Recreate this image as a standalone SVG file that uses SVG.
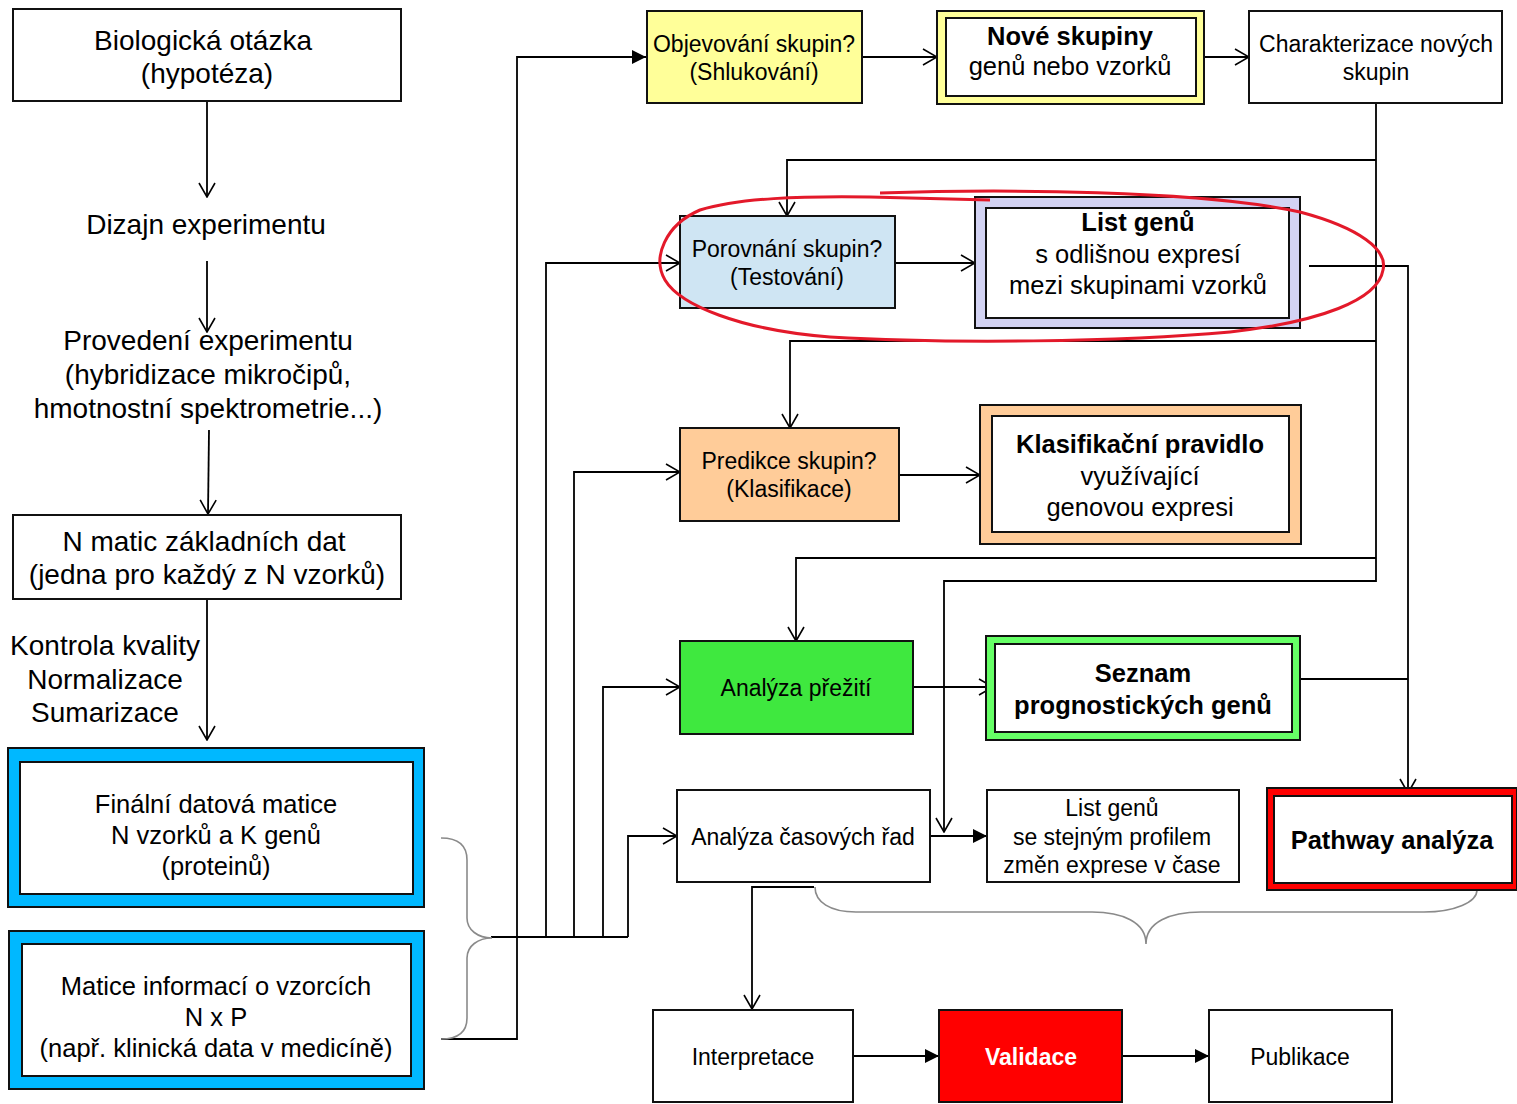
<svg xmlns="http://www.w3.org/2000/svg" width="1517" height="1104" viewBox="0 0 1517 1104">
<defs>
<style>
text{font-family:"Liberation Sans",Arial,sans-serif;fill:#000;text-anchor:middle}
.L{font-size:28px}
.M{font-size:25.5px}
.S{font-size:23px}
.b{font-weight:bold}
.box{stroke:#111;stroke-width:2}
.w{fill:#fff}
.c{fill:none;stroke:#000;stroke-width:1.8}
.br{fill:none;stroke:#8a8a8a;stroke-width:1.6}
</style>
<marker id="op" viewBox="0 0 16 18" refX="15" refY="9" markerWidth="16" markerHeight="18" markerUnits="userSpaceOnUse" orient="auto">
<path d="M1,1 L15,9 L1,17" fill="none" stroke="#000" stroke-width="1.6"/>
</marker>
<marker id="fl" viewBox="0 0 14 14" refX="14" refY="7" markerWidth="14" markerHeight="14" markerUnits="userSpaceOnUse" orient="auto">
<path d="M0,0 L14,7 L0,14 Z" fill="#000"/>
</marker>
</defs>
<rect width="1517" height="1104" fill="#fff"/>

<g id="connectors">
<path class="c" d="M207,101 V197" marker-end="url(#op)"/>
<path class="c" d="M207,261 V332" marker-end="url(#op)"/>
<path class="c" d="M209,430 L208,514" marker-end="url(#op)"/>
<path class="c" d="M207,599 V740" marker-end="url(#op)"/>
<path class="c" d="M491,937 H628"/>
<path class="c" d="M441,1039 H517 V57 H646" marker-end="url(#fl)"/>
<path class="c" d="M546,937 V263 H680" marker-end="url(#op)"/>
<path class="c" d="M574,937 V472 H680" marker-end="url(#op)"/>
<path class="c" d="M603,937 V687 H680" marker-end="url(#op)"/>
<path class="c" d="M628,937 V836 H677" marker-end="url(#op)"/>
<path class="c" d="M862,57 H937" marker-end="url(#op)"/>
<path class="c" d="M1204,57 H1249" marker-end="url(#op)"/>
<path class="c" d="M1376,103 V581 H944 V832" marker-end="url(#op)"/>
<path class="c" d="M1376,160 H787 V216" marker-end="url(#op)"/>
<path class="c" d="M1376,341 H790 V428" marker-end="url(#op)"/>
<path class="c" d="M1376,558 H796 V641" marker-end="url(#op)"/>
<path class="c" d="M895,263 H975" marker-end="url(#op)"/>
<path class="c" d="M1309,266 H1408 V793" marker-end="url(#op)"/>
<path class="c" d="M1300,679 H1408"/>
<path class="c" d="M899,475 H980" marker-end="url(#op)"/>
<path class="c" d="M913,687 H993" marker-end="url(#op)"/>
<path class="c" d="M930,836 H987" marker-end="url(#fl)"/>
<path class="c" d="M814,887 H752 V1009" marker-end="url(#op)"/>
<path class="c" d="M853,1056 H939" marker-end="url(#fl)"/>
<path class="c" d="M1122,1056 H1209" marker-end="url(#fl)"/>
<path class="br" d="M441,838 C458,838 467,845 467,860 V918 C467,930 478,938 492,938 C478,938 467,946 467,958 V1018 C467,1032 458,1039 441,1039"/>
<path class="br" d="M815,887 C815,902 830,912 856,912 H1092 C1122,912 1146,922 1146,944 C1146,922 1170,912 1201,912 H1424 C1455,912 1477,902 1477,890"/>
</g>

<g id="n-bio"><rect class="box w" x="13" y="9" width="388" height="92"/>
<text class="L" x="203" y="50">Biologická otázka</text><text class="L" x="207" y="83">(hypotéza)</text></g>
<g id="n-dizajn"><text class="L" x="206" y="234">Dizajn experimentu</text></g>
<g id="n-provedeni"><text class="L" x="208" y="350">Provedení experimentu</text>
<text class="L" x="208" y="384">(hybridizace mikročipů,</text>
<text class="L" x="208" y="418">hmotnostní spektrometrie...)</text></g>
<g id="n-nmatic"><rect class="box w" x="13" y="515" width="388" height="84"/>
<text class="L" x="204" y="551">N matic základních dat</text><text class="L" x="207" y="584">(jedna pro každý z N vzorků)</text></g>
<g id="n-kontrola"><text class="L" x="105" y="655">Kontrola kvality</text><text class="L" x="105" y="689">Normalizace</text><text class="L" x="105" y="722">Sumarizace</text></g>
<g id="n-finalni"><rect class="box" x="8" y="748" width="416" height="159" fill="#00B8FF"/><rect class="box w" x="20" y="762" width="393" height="132"/>
<text class="M" x="216" y="813">Finální datová matice</text><text class="M" x="216" y="844">N vzorků a K genů</text><text class="M" x="216" y="875">(proteinů)</text></g>
<g id="n-matice"><rect class="box" x="9" y="931" width="415" height="158" fill="#00B8FF"/><rect class="box w" x="22" y="944" width="389" height="132"/>
<text class="M" x="216" y="995">Matice informací o vzorcích</text><text class="M" x="216" y="1026">N x P</text><text class="M" x="216" y="1057">(např. klinická data v medicíně)</text></g>

<g id="n-objev"><rect class="box" x="647" y="11" width="215" height="92" fill="#FFFF99"/>
<text class="S" x="754" y="52">Objevování skupin?</text><text class="S" x="754" y="80">(Shlukování)</text></g>
<g id="n-nove"><rect class="box" x="937" y="11" width="267" height="93" fill="#FFFF99"/><rect class="box w" x="946" y="18" width="250" height="78"/>
<text class="M b" x="1070" y="45">Nové skupiny</text><text class="M" x="1070" y="75">genů nebo vzorků</text></g>
<g id="n-charakt"><rect class="box w" x="1249" y="11" width="253" height="92"/>
<text class="S" x="1376" y="52">Charakterizace nových</text><text class="S" x="1376" y="80">skupin</text></g>

<g id="n-porovnani"><rect class="box" x="680" y="216" width="215" height="92" fill="#CFE5F3"/>
<text class="S" x="787" y="257">Porovnání skupin?</text><text class="S" x="787" y="285">(Testování)</text></g>
<g id="n-listgenu"><rect class="box" x="975" y="197" width="325" height="131" fill="#D3D3F3"/><rect class="box w" x="986" y="208" width="303" height="110"/>
<text class="M b" x="1138" y="231">List genů</text><text class="M" x="1138" y="263">s odlišnou expresí</text><text class="M" x="1138" y="294">mezi skupinami vzorků</text></g>

<g id="n-predikce"><rect class="box" x="680" y="428" width="219" height="93" fill="#FFCC99"/>
<text class="S" x="789" y="469">Predikce skupin?</text><text class="S" x="789" y="497">(Klasifikace)</text></g>
<g id="n-klasif"><rect class="box" x="980" y="405" width="321" height="139" fill="#FFCC99"/><rect class="box w" x="992" y="416" width="297" height="116"/>
<text class="M b" x="1140" y="453">Klasifikační pravidlo</text><text class="M" x="1140" y="485">využívající</text><text class="M" x="1140" y="516">genovou expresi</text></g>

<g id="n-preziti"><rect class="box" x="680" y="641" width="233" height="93" fill="#3FE83F"/>
<text class="S" x="796" y="696">Analýza přežití</text></g>
<g id="n-seznam"><rect class="box" x="986" y="636" width="314" height="104" fill="#66FF66"/><rect class="box w" x="995" y="644" width="297" height="88"/>
<text class="M b" x="1143" y="682">Seznam</text><text class="M b" x="1143" y="714">prognostických genů</text></g>

<g id="n-casove"><rect class="box w" x="677" y="790" width="253" height="92"/>
<text class="S" x="803" y="845">Analýza časových řad</text></g>
<g id="n-listprofil"><rect class="box w" x="987" y="790" width="252" height="92"/>
<text class="S" x="1112" y="816">List genů</text><text class="S" x="1112" y="845">se stejným profilem</text><text class="S" x="1112" y="873">změn exprese v čase</text></g>
<g id="n-pathway"><rect class="box" x="1267" y="788" width="250" height="102" fill="#FF0000"/><rect class="box w" x="1274" y="796" width="238" height="87"/>
<text class="M b" x="1392" y="849">Pathway analýza</text></g>

<g id="n-interp"><rect class="box w" x="653" y="1010" width="200" height="92"/><text class="S" x="753" y="1065">Interpretace</text></g>
<g id="n-valid"><rect class="box" x="939" y="1010" width="183" height="92" fill="#FF0000"/><text class="S b" x="1031" y="1065" style="fill:#fff">Validace</text></g>
<g id="n-publ"><rect class="box w" x="1209" y="1010" width="183" height="92"/><text class="S" x="1300" y="1065">Publikace</text></g>

<g id="highlight">
<path d="M880,193 C1000,189 1200,190 1300,212 C1360,228 1388,250 1383,270 C1378,300 1320,322 1230,332 C1120,342 950,344 830,337 C740,330 680,305 665,280 C652,258 665,225 700,210 C740,198 800,196 870,197 C920,198 960,199 990,200" fill="none" stroke="#E3192A" stroke-width="3"/>
</g>
</svg>
